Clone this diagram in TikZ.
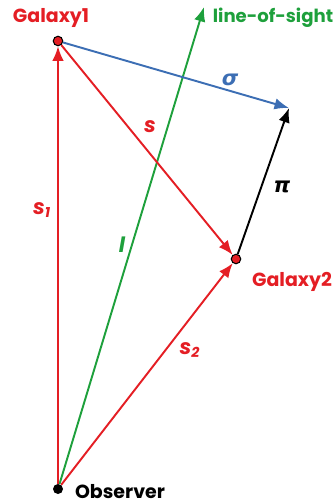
\documentclass[tikz,border=0pt]{standalone}
\usepackage{fontspec}
\setmainfont{Poppins}
\newfontfamily\greekfont{DejaVu Sans}
\usetikzlibrary{arrows.meta,positioning}
\definecolor{galred}{RGB}{228,30,36}
\definecolor{losgreen}{RGB}{30,160,60}
\definecolor{sigblue}{RGB}{60,110,180}
\begin{document}
\begin{tikzpicture}[
  x=0.02cm, y=-0.02cm,
  galdot/.style={circle, draw=black, fill=galred, line width=0.6pt, inner sep=0pt, minimum size=0.19cm},
  obsdot/.style={circle, fill=black, inner sep=0pt, minimum size=0.2cm},
  vec/.style={line width=1.1pt, -{Latex[length=2.9mm,width=2.3mm]}},
  lab/.style={font=\bfseries\fontsize{10.8}{12}\selectfont, inner sep=1pt},
  symlab/.style={font=\bfseries\itshape\large}
]
\useasboundingbox (0,0) rectangle (335,503);

% Points
\node[obsdot] (obs) at (58,489) {};
\node[galdot] (g1) at (58,41) {};
\node[galdot] (g2) at (236,259) {};
\coordinate (los) at (204,7);
\coordinate (tip) at (289,108);

% Vectors
\draw[vec, losgreen] (obs) -- (los);
\draw[vec, galred] (obs) -- (g1);
\draw[vec, galred] (obs) -- (g2);
\draw[vec, galred] (g1) -- (g2);
\draw[vec, sigblue] (g1) -- (tip);
\draw[vec, black] (g2) -- (tip);

% Labels
\node[lab, galred] (g1lab) at (51,18) {Galaxy1};
\node[lab, galred] (g2lab) at (292,282) {Galaxy2};
\node[lab, black] (obslab) at (120,492) {Observer};
\node[lab, losgreen, font=\bfseries\fontsize{10.3}{12}\selectfont] (loslab) at (273,18) {line-of-sight};
\node[symlab, galred] (s1lab) at (42,210) {s\textsubscript{1}};
\node[symlab, galred] (s2lab) at (190,350) {s\textsubscript{2}};
\node[symlab, galred] (slab) at (150,127) {s};
\node[symlab, losgreen] (llab) at (122,245) {l};
\node[symlab, sigblue] (siglab) at (230,80) {\greekfont σ};
\node[symlab, black] (pilab) at (282,187) {\greekfont π};
\end{tikzpicture}
\end{document}
